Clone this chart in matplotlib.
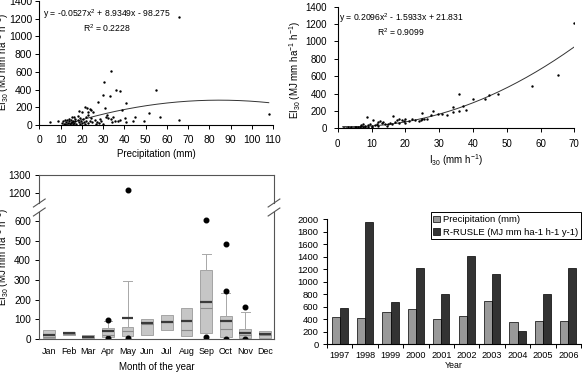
import matplotlib
matplotlib.use("Agg")
import matplotlib.pyplot as plt
import numpy as np

plt.rcParams['font.family'] = ['Liberation Sans', 'DejaVu Sans']
plt.rcParams['mathtext.fontset'] = 'custom'
plt.rcParams['mathtext.rm'] = 'Liberation Sans'
plt.rcParams['mathtext.it'] = 'Liberation Sans:italic'
plt.rcParams['axes.linewidth'] = 0.8

# ---- panel 1: EI30 vs precipitation ----
p1_precip = [5.0, 9.0, 10.5, 11.0, 11.5, 12.0, 12.0, 12.5, 13.0, 13.0, 13.5, 14.0, 14.0, 14.5,
             15.0, 15.0, 15.5, 15.5, 16.0, 16.0, 16.5, 16.5, 17.0, 17.0, 17.5, 18.0, 18.0, 18.5,
             18.6, 19.0, 19.0, 19.5, 20.0, 20.0, 20.5, 21.0, 21.5, 21.5, 22.0, 22.0, 22.6, 23.0,
             23.0, 23.1, 23.8, 24.0, 24.3, 24.5, 25.0, 25.4, 26.0, 26.5, 27.0, 27.4, 28.0, 28.5,
             29.0, 29.8, 30.0, 30.6, 30.9, 31.3, 31.7, 32.5, 33.3, 33.7, 33.7, 34.4, 34.8, 35.6,
             36.1, 37.2, 37.9, 38.0, 38.7, 40.3, 40.6, 40.8, 44.2, 45.0, 49.4, 51.6, 54.9, 56.8,
             65.8, 65.7, 108.0]
p1_ei = [30, 49, 20, 40, 8, 52, 15, 30, 60, 5, 25, 72, 42, 12,
         62, 22, 85, 38, 50, 8, 95, 28, 72, 42, 15, 98, 55, 30,
         160, 80, 10, 45, 150, 25, 65, 35, 207, 15, 95, 50, 196, 110,
         20, 145, 177, 40, 169, 75, 30, 150, 60, 15, 35, 263, 20, 70,
         45, 335, 10, 485, 195, 94, 109, 75, 331, 610, 64, 37, 94, 45,
         395, 45, 384, 56, 169, 75, 37, 245, 49, 87, 45, 139, 391, 94,
         1216, 56, 120]
p1_coef = [-0.0527, 8.9349, -98.275]
p1_eq = "y = -0.0527x$^{2}$ + 8.9349x - 98.275"
p1_r2 = "R$^{2}$ = 0.2228"

# ---- panel 2: EI30 vs I30 ----
p2_i30 = [1.5, 2, 2.5, 3, 3.5, 4, 4.5, 5, 5.5, 6, 6.5, 7, 7, 7.5, 7.5, 8, 8, 8.6, 9, 9,
          9.5, 10, 10, 10.5, 11, 11.5, 12, 12, 12.5, 13, 13.5, 14, 14.5, 15, 15.5, 16, 16.4,
          17, 17.5, 18, 18, 19, 19.5, 20, 20, 21, 22, 23, 24, 24.5, 24.8, 25, 25.5, 26.3,
          27.5, 28.3, 29.6, 31, 32.4, 34, 34, 36, 36, 37, 38, 40.1, 43.6, 44.9, 47.3, 57.5,
          65.3, 70]
p2_ei = [3, 8, 5, 10, 6, 12, 9, 15, 11, 18, 14, 25, 40, 20, 45, 30, 12, 125, 35, 20,
         45, 30, 10, 100, 40, 55, 25, 75, 85, 60, 70, 45, 30, 55, 60, 50, 138,
         75, 90, 105, 65, 95, 80, 110, 60, 85, 105, 95, 80, 95, 172, 105, 110, 112,
         150, 203, 165, 160, 158, 184, 249, 391, 203, 257, 211, 334, 341, 380, 398, 487,
         613, 1216]
p2_coef = [0.2096, -1.5933, 21.831]
p2_eq = "y = 0.2096x$^{2}$ - 1.5933x + 21.831"
p2_r2 = "R$^{2}$ = 0.9099"

# ---- panel 3: monthly box plots ----
months = ['Jan', 'Feb', 'Mar', 'Apr', 'May', 'Jun', 'Jul', 'Aug', 'Sep', 'Oct', 'Nov', 'Dec']
box_q1 = [5, 22, 5, 8, 14, 20, 44, 14, 30, 8, 5, 5]
box_q3 = [44, 37, 22, 56, 59, 100, 123, 157, 352, 118, 51, 42]
box_med = [12, 27, 10, 22, 42, 78, 88, 47, 157, 51, 22, 22]
box_mean = [18, 28, 12, 39, 106, 80, 88, 93, 188, 90, 32, 27]
box_whislo = [5, 22, 5, 8, 14, 20, 44, 14, 30, 8, 5, 5]
box_whishi = [44, 37, 22, 90, 297, 100, 123, 157, 431, 232, 137, 42]
box_fliers = [[], [], [], [95, 3], [1217, 5], [], [], [], [605, 8], [480, 245, 2], [164, 0], []]

# ---- panel 4: yearly bars ----
years = ['1997', '1998', '1999', '2000', '2001', '2002', '2003', '2004', '2005', '2006']
precip_year = [438, 412, 508, 556, 396, 449, 684, 353, 369, 369]
rusle_year = [572, 1963, 679, 1214, 802, 1412, 1118, 214, 802, 1219]

W, H = 582, 377
fig = plt.figure(figsize=(W / 100, H / 100), dpi=100)


def px_axes(l, t, r, b):
    return fig.add_axes([l / W, 1 - b / H, (r - l) / W, (b - t) / H])


ei_label = "EI$_{30}$ (MJ mm ha$^{-1}$ h$^{-1}$)"

# panel 1
ax1 = px_axes(39.3, 1, 273, 125)
ax1.scatter(p1_precip, p1_ei, s=3, color='black', zorder=3, linewidths=0)
xc = np.linspace(12, 108, 200)
ax1.plot(xc, np.polyval(p1_coef, xc), color='#333333', lw=0.7)
ax1.set_xlim(0, 110)
ax1.set_ylim(0, 1400)
ax1.set_xticks(range(0, 111, 10))
ax1.set_yticks(range(0, 1401, 200))
ax1.tick_params(labelsize=7.5, length=3, width=0.7)
ax1.tick_params(axis='x', pad=4)
ax1.tick_params(axis='y', pad=2)
ax1.set_xlabel("Precipitation (mm)", fontsize=7, labelpad=3)
ax1.text(0.015, 0.95, p1_eq, transform=ax1.transAxes, fontsize=6.2, va='top')
ax1.text(0.186, 0.83, p1_r2, transform=ax1.transAxes, fontsize=6.2, va='top')
fig.text(3 / W, 1 - 62 / H, ei_label, rotation=90, fontsize=7, ha='center', va='center')

# panel 2
ax2 = px_axes(337.7, 6.7, 574.3, 128.3)
ax2.scatter(p2_i30, p2_ei, s=3, color='black', zorder=3, linewidths=0)
xc2 = np.linspace(1.5, 70, 200)
ax2.plot(xc2, np.polyval(p2_coef, xc2), color='#333333', lw=0.7)
ax2.set_xlim(0, 70)
ax2.set_ylim(0, 1400)
ax2.set_xticks(range(0, 71, 10))
ax2.set_yticks(range(0, 1401, 200))
ax2.tick_params(labelsize=7.0, length=3, width=0.7)
ax2.tick_params(axis='x', pad=5)
ax2.tick_params(axis='y', pad=5)
ax2.set_xlabel("I$_{30}$ (mm h$^{-1}$)", fontsize=7, labelpad=2)
ax2.text(0.007, 0.96, p2_eq, transform=ax2.transAxes, fontsize=6.2, va='top')
ax2.text(0.166, 0.835, p2_r2, transform=ax2.transAxes, fontsize=6.2, va='top')
fig.text(295 / W, 1 - 70 / H, ei_label, rotation=90, fontsize=7, ha='center', va='center')

for ax in (ax1, ax2):
    ax.spines['top'].set_visible(False)
    ax.spines['right'].set_visible(False)

# panel 3 (broken axis)
ax3t = px_axes(39.3, 175, 274, 203)
ax3b = px_axes(39.3, 212, 274, 339)
stats = []
for i in range(len(months)):
    stats.append(dict(q1=box_q1[i], q3=box_q3[i], med=box_med[i], mean=box_mean[i],
                      whislo=box_whislo[i], whishi=box_whishi[i], fliers=box_fliers[i]))
pos = np.arange(1, len(months) + 1)
for ax in (ax3t, ax3b):
    ax.bxp(stats, positions=pos, widths=0.6, patch_artist=True, showmeans=True, meanline=True,
           capwidths=0.45,
           boxprops=dict(facecolor='#c6c6c6', edgecolor='#9a9a9a', linewidth=0.6),
           medianprops=dict(color='#8a8a8a', linewidth=0.8),
           meanprops=dict(color='#3a3a3a', linewidth=1.6, linestyle='-'),
           whiskerprops=dict(color='#a8a8a8', linewidth=0.7),
           capprops=dict(color='#a8a8a8', linewidth=0.7),
           flierprops=dict(marker='o', markerfacecolor='black', markeredgecolor='black',
                           markersize=3.3))
    ax.set_xlim(0.5, 12.46)
    for sp in ax.spines.values():
        sp.set_color('#555555')
ax3t.set_ylim(1144, 1300)
ax3t.set_yticks([1200, 1300])
ax3b.set_ylim(0, 645)
ax3b.set_yticks(range(0, 601, 100))
ax3t.spines['bottom'].set_visible(False)
ax3b.spines['top'].set_visible(False)
ax3t.tick_params(axis='x', bottom=False, labelbottom=False)
ax3t.tick_params(axis='y', labelsize=7.2, length=3, width=0.7, pad=3)
ax3b.tick_params(axis='y', labelsize=7.2, length=3, width=0.7, pad=3)
ax3b.tick_params(axis='x', labelsize=6.4, length=0, pad=6)
ax3b.set_xticks(pos)
ax3b.set_xticklabels(months)
ax3b.set_xlabel("Month of the year", fontsize=7, labelpad=4)
fig.text(3 / W, 1 - 257 / H, ei_label, rotation=90, fontsize=7, ha='center', va='center')
# break marks
for ax, yb in ((ax3t, 0.0), (ax3b, 1.0)):
    h = ax.get_position().height * H
    for xs in (0.0, 1.0):
        ax.plot([xs - 0.025, xs + 0.025], [yb - 4 / h, yb + 4 / h],
                transform=ax.transAxes, color='#555555', lw=0.8, clip_on=False)

# panel 4
ax4 = px_axes(327, 219.3, 581, 344)
xi = np.arange(len(years))
bw = 0.32
ax4.bar(xi - bw / 2, precip_year, bw, color='#999999', edgecolor='black', linewidth=0.5,
        label='Precipitation (mm)')
ax4.bar(xi + bw / 2, rusle_year, bw, color='#333333', edgecolor='black', linewidth=0.5,
        label='R-RUSLE (MJ mm ha-1 h-1 y-1)')
ax4.set_xlim(-0.5, len(years) - 0.5)
ax4.set_ylim(0, 2000)
ax4.set_yticks(range(0, 2001, 200))
ax4.set_xticks(xi)
ax4.set_xticklabels(years, fontsize=6.6)
ax4.set_xticks(np.arange(-0.5, len(years), 1), minor=True)
ax4.tick_params(axis='x', which='major', length=0, pad=5)
ax4.tick_params(axis='x', which='minor', length=3, width=0.7)
ax4.tick_params(axis='y', labelsize=6.8, length=3, width=0.7, pad=3)
ax4.spines['top'].set_visible(False)
ax4.spines['right'].set_visible(False)
ax4.set_xlabel("Year", fontsize=6.3, labelpad=1)
leg = ax4.legend(loc='upper right', bbox_to_anchor=(1.0, 1.055), fontsize=6.8,
                 fancybox=False, edgecolor='black', framealpha=1, borderpad=0.3,
                 handlelength=0.7, handleheight=0.7, handletextpad=0.3, labelspacing=0.35,
                 borderaxespad=0)
leg.get_frame().set_linewidth(0.7)

fig.savefig("out.png", dpi=100)
